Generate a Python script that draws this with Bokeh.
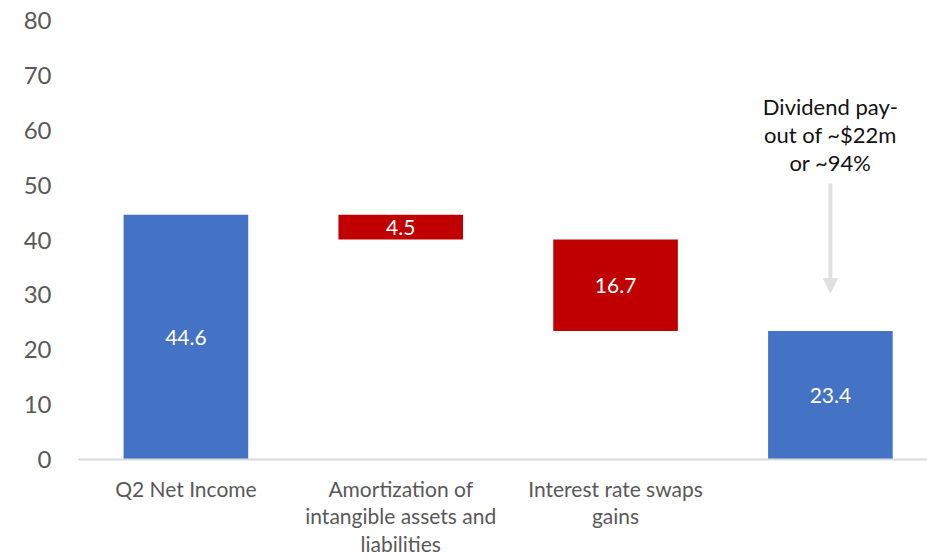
from bokeh.plotting import figure
from bokeh.models import Range1d, Label, Arrow, NormalHead, FixedTicker, ColumnDataSource
from bokeh.embed import file_html
from bokeh.resources import INLINE

# ---- data ----
categories = ["Q2 Net Income",
              "Amortization of\nintangible assets and\nliabilities",
              "Interest rate swaps\ngains",
              ""]
changes = [44.6, -4.5, -16.7, 23.4]
is_total = [True, False, False, True]
value_labels = ["44.6", "4.5", "16.7", "23.4"]
y_ticks = [0, 10, 20, 30, 40, 50, 60, 70, 80]
note_text = "Dividend pay-\nout of ~$22m\nor ~94%"

BLUE = "#4472C4"
RED = "#C00000"
FONT = "Lato"

# waterfall geometry from the values
xs, bottoms, tops, colors, mids = [], [], [], [], []
running = 0.0
for i, (c, tot) in enumerate(zip(changes, is_total)):
    if tot:
        b, t = 0.0, c
        running = c
        col = BLUE
    else:
        b, t = running + c, running
        running = running + c
        col = RED
    xs.append(i)
    bottoms.append(b)
    tops.append(t)
    colors.append(col)
    mids.append((b + t) / 2)

src = ColumnDataSource(dict(x=xs, bottom=bottoms, top=tops, color=colors, mid=mids, lab=value_labels))

p = figure(width=927, height=558, output_backend="svg", toolbar_location=None,
           x_range=Range1d(-0.5, 3.452), y_range=Range1d(0, 80),
           min_border_left=78, min_border_right=0, min_border_top=20, min_border_bottom=99)
p.outline_line_color = None
p.xgrid.grid_line_color = None
p.ygrid.grid_line_color = None
p.background_fill_color = "white"
p.border_fill_color = "white"

p.vbar(x="x", bottom="bottom", top="top", width=0.58, color="color", line_color=None, source=src)
p.text(x="x", y="mid", text="lab", source=src, text_color="white", text_align="center",
       text_baseline="middle", text_font_size="21px", text_font={"value": FONT})

# y axis
p.yaxis.ticker = FixedTicker(ticks=y_ticks)
p.yaxis.axis_line_color = None
p.yaxis.major_tick_line_color = None
p.yaxis.minor_tick_line_color = None
p.yaxis.major_tick_out = 0
p.yaxis.major_tick_in = 0
p.yaxis.minor_tick_out = 0
p.yaxis.major_label_standoff = 27
p.yaxis.major_label_text_font = FONT
p.yaxis.major_label_text_font_size = "24px"
p.yaxis.major_label_text_color = "#595959"

# x axis: baseline plus category labels
p.xaxis.ticker = FixedTicker(ticks=[0, 1, 2, 3])
p.xaxis.major_label_overrides = {i: c for i, c in enumerate(categories)}
p.xaxis.axis_line_color = "#D9D9D9"
p.xaxis.axis_line_width = 2
p.xaxis.major_tick_line_color = None
p.xaxis.minor_tick_line_color = None
p.xaxis.major_tick_out = 0
p.xaxis.major_tick_in = 0
p.xaxis.minor_tick_out = 0
p.xaxis.major_label_standoff = 16
p.xaxis.major_label_text_font = FONT
p.xaxis.major_label_text_font_size = "21px"
p.xaxis.major_label_text_color = "#595959"
p.xaxis.major_label_text_line_height = 1.1

# annotation: dividend note and arrow
p.add_layout(Label(x=3, y=66.8, text=note_text, text_align="center", text_baseline="top",
                   text_font=FONT, text_font_size="22px", text_color="#111111",
                   text_line_height=1.04))
p.add_layout(Arrow(x_start=3, y_start=50.3, x_end=3, y_end=30.4,
                   line_color="#E0E0E0", line_width=4,
                   end=NormalHead(size=14, fill_color="#E0E0E0", line_color="#E0E0E0")))

open("out.html", "w").write(file_html(p, INLINE))
